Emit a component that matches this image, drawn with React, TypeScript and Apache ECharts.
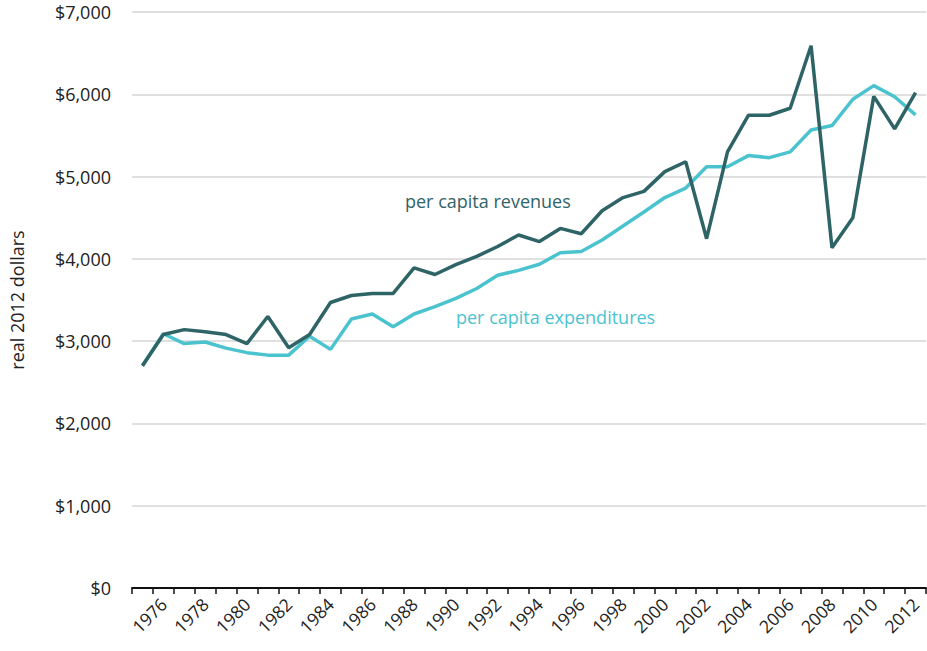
import React, { useEffect, useRef } from "react";
import * as echarts from "echarts";

const years: string[] = [];
for (let y = 1975; y <= 2012; y++) years.push(String(y));

const revenues = [
  2700, 3080, 3140, 3115, 3080, 2970, 3300, 2920, 3080, 3470,
  3555, 3580, 3580, 3890, 3810, 3930, 4030, 4150, 4290, 4210,
  4370, 4305, 4585, 4745, 4820, 5060, 5180, 4245, 5300, 5745,
  5745, 5830, 6590, 4135, 4500, 5975, 5580, 6020,
];

const expenditures = [
  2700, 3090, 2970, 2990, 2915, 2860, 2830, 2830, 3060, 2900,
  3270, 3330, 3175, 3330, 3420, 3520, 3640, 3800, 3860, 3935,
  4075, 4090, 4230, 4400, 4570, 4745, 4860, 5120, 5120, 5255,
  5230, 5300, 5565, 5620, 5940, 6105, 5970, 5750,
];

const yTicks = [0, 1000, 2000, 3000, 4000, 5000, 6000, 7000];

const DARK = "#2f6467";
const CYAN = "#4bc3cf";
const FONT = "'Open Sans', sans-serif";

export default function App() {
  const ref = useRef<HTMLDivElement>(null);
  useEffect(() => {
    if (!ref.current) return;
    const chart = echarts.init(ref.current, undefined, { renderer: "svg" });
    chart.setOption({
      animation: false,
      grid: { left: 129, right: 1, top: 12, bottom: 63, containLabel: false },
      xAxis: {
        type: "category",
        data: years,
        boundaryGap: true,
        axisLine: { show: true, lineStyle: { color: "#111", width: 2 } },
        axisTick: { show: true, length: 6, lineStyle: { color: "#111", width: 1.5 }, interval: 0 },
        axisLabel: {
          interval: (i: number) => i % 2 === 1,
          rotate: 45,
          fontSize: 17.5,
          fontFamily: FONT,
          color: "#222",
          margin: 13,
        },
        splitLine: { show: false },
      },
      yAxis: {
        type: "value",
        min: yTicks[0],
        max: yTicks[yTicks.length - 1],
        interval: 1000,
        name: "real 2012 dollars",
        nameLocation: "middle",
        nameGap: 106,
        nameTextStyle: { fontSize: 18, fontFamily: FONT, color: "#222" },
        axisLine: { show: false },
        axisTick: { show: false },
        axisLabel: {
          fontSize: 18,
          fontFamily: FONT,
          color: "#222",
          margin: 21,
          formatter: (v: number) => "$" + v.toLocaleString("en-US"),
        },
        splitLine: { lineStyle: { color: "#d6d6d6", width: 1.5 } },
      },
      series: [
        {
          name: "per capita expenditures",
          type: "line",
          data: expenditures,
          symbol: "none",
          lineStyle: { color: CYAN, width: 3.5 },
          z: 2,
        },
        {
          name: "per capita revenues",
          type: "line",
          data: revenues,
          symbol: "none",
          lineStyle: { color: DARK, width: 3.5 },
          z: 3,
        },
      ],
      graphic: [
        {
          type: "text",
          left: 405,
          top: 192,
          style: { text: "per capita revenues", fontSize: 18, fontFamily: FONT, fill: DARK },
        },
        {
          type: "text",
          left: 456,
          top: 308,
          style: { text: "per capita expenditures", fontSize: 18, fontFamily: FONT, fill: CYAN },
        },
      ],
    });
    return () => chart.dispose();
  }, []);
  return <div ref={ref} style={{ width: 927, height: 651, position: "absolute", left: 0, top: 0 }} />;
}
